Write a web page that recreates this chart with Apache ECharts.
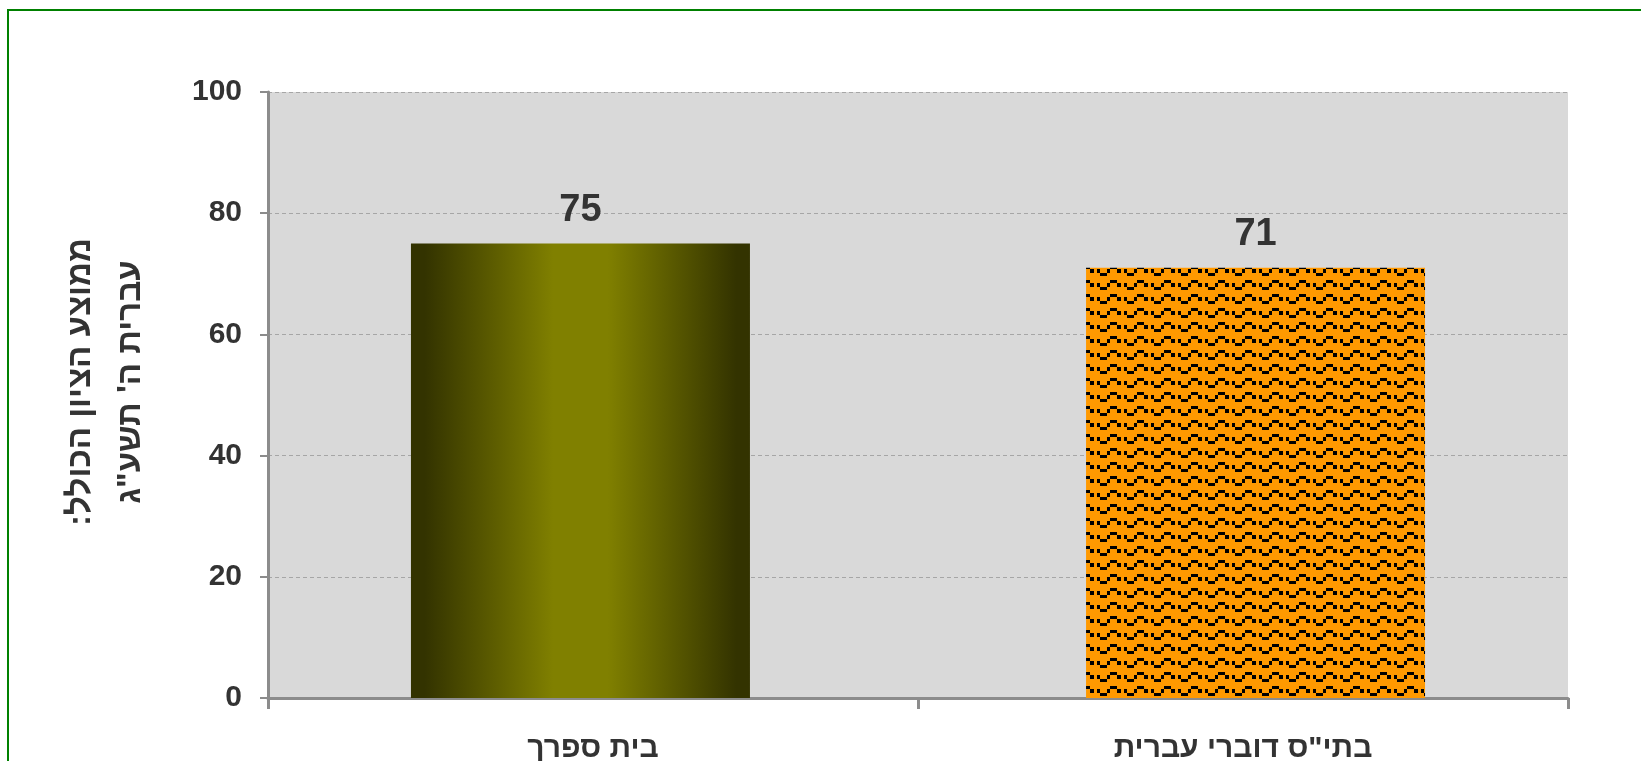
<!DOCTYPE html>
<html>
<head>
<meta charset="utf-8">
<script src="https://cdn.jsdelivr.net/npm/echarts@6/dist/echarts.min.js"></script>
<style>
  html, body { margin: 0; padding: 0; background: #ffffff; }
  #chart { width: 1641px; height: 761px; }
</style>
</head>
<body>
<div id="chart"></div>
<script>
// ---- data ----
const categories = ['בית ספרך', 'בתי"ס דוברי עברית'];
const values = [75, 71];
const yTicks = [0, 20, 40, 60, 80, 100];
const yAxisTitle = 'ממוצע הציון הכולל:\u200F\nעברית ה\' תשע"ג';

// ---- wave pattern for the second bar ----
function makeWavePattern() {
  const c = document.createElement('canvas');
  c.width = 27; c.height = 14;
  const g = c.getContext('2d');
  g.fillStyle = '#ff9900';
  g.fillRect(0, 0, 27, 14);
  g.fillStyle = '#000000';
  const cx = [0, 3, 7, 10, 14, 17, 20, 24, 27];
  const ry = [0, 3, 7, 10, 14];
  function blk(col, row, n) { g.fillRect(cx[col], ry[row], cx[col + n] - cx[col], ry[row + 1] - ry[row]); }
  blk(0, 1, 1);   // side
  blk(1, 0, 2);   // crest
  blk(3, 1, 1);   // side
  blk(5, 1, 1);   // side
  blk(6, 2, 2);   // trough
  return c;
}

const textColor = '#333333';
const axisColor = '#8c8c8c';
const font = "'Liberation Sans', Arial, 'DejaVu Sans', sans-serif";

const chart = echarts.init(document.getElementById('chart'), null, { renderer: 'canvas' });

const option = {
  backgroundColor: '#ffffff',
  animation: false,
  graphic: [{
    type: 'rect',
    shape: { x: 8, y: 10, width: 1700, height: 800 },
    style: { fill: 'none', stroke: '#008000', lineWidth: 2 },
    silent: true
  }],
  grid: {
    left: 268, right: 73, top: 92, bottom: 63,
    outerBoundsMode: 'none',
    containLabel: false,
    show: true, backgroundColor: '#d9d9d9', borderWidth: 0
  },
  xAxis: {
    type: 'category',
    data: categories,
    axisLine: { show: true, lineStyle: { color: axisColor, width: 3 } },
    axisTick: { show: true, length: 11, lineStyle: { color: axisColor, width: 3 } },
    axisLabel: { color: textColor, fontSize: 30, fontWeight: 'bold', fontFamily: font, margin: 36 }
  },
  yAxis: {
    type: 'value',
    min: yTicks[0], max: yTicks[yTicks.length - 1], interval: 20,
    name: yAxisTitle,
    nameLocation: 'middle',
    nameGap: 112,
    nameTextStyle: { color: textColor, fontSize: 33, fontWeight: 'bold', fontFamily: font, lineHeight: 50, padding: [0, 0, 0, 26] },
    axisLine: { show: true, lineStyle: { color: axisColor, width: 3 } },
    axisTick: { show: true, length: 8, lineStyle: { color: axisColor, width: 2 } },
    axisLabel: { color: textColor, fontSize: 30, fontWeight: 'bold', fontFamily: font, margin: 26 },
    splitLine: { show: true, lineStyle: { color: '#a6a6a6', width: 1, type: [4, 3] } }
  },
  series: [
    {
      type: 'bar',
      data: values.map((v, i) => (i === 0 ? v : '-')),
      barWidth: 339,
      barGap: '-92.6%',
      itemStyle: {
        color: new echarts.graphic.LinearGradient(0, 0, 1, 0, [
          { offset: 0, color: '#333300' },
          { offset: 0.04, color: '#333300' },
          { offset: 0.42, color: '#808000' },
          { offset: 0.58, color: '#808000' },
          { offset: 0.96, color: '#333300' },
          { offset: 1, color: '#333300' }
        ])
      },
      label: { show: true, position: 'top', distance: 14, color: textColor, fontSize: 38, fontWeight: 'bold', fontFamily: font }
    },
    {
      type: 'bar',
      data: values.map((v, i) => (i === 1 ? v : '-')),
      barWidth: 339,
      itemStyle: { color: { image: makeWavePattern(), repeat: 'repeat' } },
      label: { show: true, position: 'top', distance: 14, color: textColor, fontSize: 38, fontWeight: 'bold', fontFamily: font }
    }
  ]
};

chart.setOption(option);
</script>
</body>
</html>
